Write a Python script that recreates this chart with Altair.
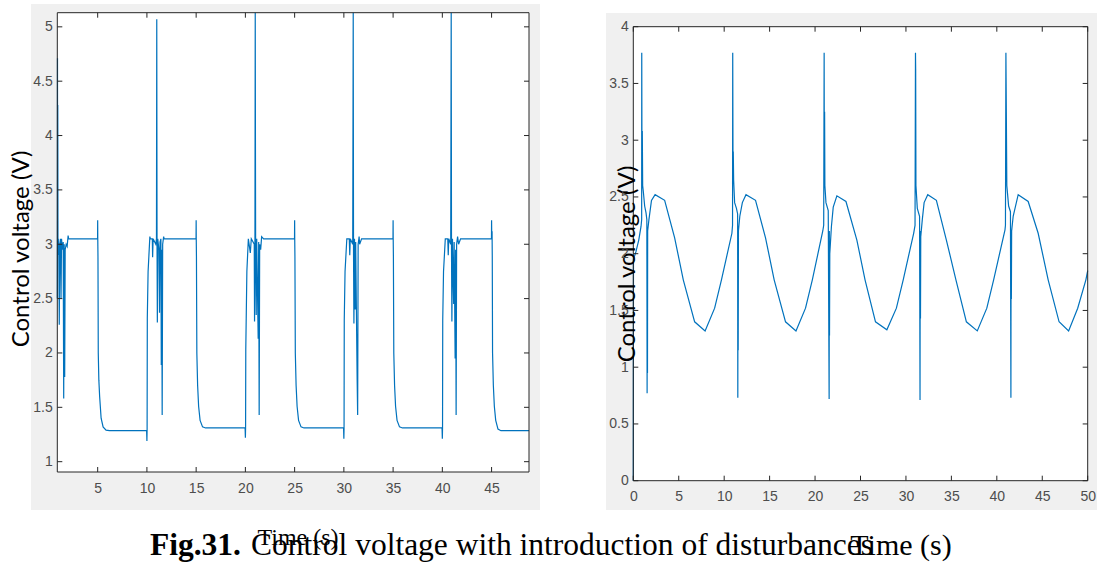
import altair as alt
import pandas as pd

# ---------------- data ----------------
left_t = [0.90, 0.91, 0.92, 0.93, 0.95, 0.97, 1.00, 1.05, 1.10, 1.15, 1.22, 1.28, 1.33, 1.42, 1.50, 1.55, 1.60, 1.65, 1.70, 1.80, 1.90, 2.00, 2.05, 4.99, 5.00, 5.01, 5.03, 5.06, 5.12, 5.20, 5.35, 5.55, 5.85, 6.20, 9.97,
          10.00, 10.02, 10.04, 10.12, 10.30, 10.35, 10.55, 10.58, 10.63, 10.90, 10.97, 11.00, 11.03, 11.06, 11.10, 11.22, 11.28, 11.33, 11.42, 11.46, 11.50, 11.55, 11.60, 11.70, 11.75, 14.99, 15.00, 15.01, 15.03, 15.07, 15.15, 15.25, 15.40, 15.65, 15.95, 19.97,
          20.00, 20.02, 20.04, 20.15, 20.30, 20.50, 20.60, 20.90, 20.93, 20.97, 21.00, 21.02, 21.04, 21.10, 21.15, 21.30, 21.35, 21.40, 21.45, 21.55, 21.65, 21.85, 24.99, 25.00, 25.01, 25.03, 25.07, 25.15, 25.25, 25.40, 25.65, 25.95, 29.97,
          30.00, 30.02, 30.04, 30.12, 30.30, 30.55, 30.60, 30.65, 30.90, 30.95, 30.98, 31.02, 31.08, 31.15, 31.20, 31.35, 31.40, 31.45, 31.55, 31.60, 31.80, 34.99, 35.00, 35.01, 35.03, 35.07, 35.15, 35.25, 35.40, 35.65, 35.95, 39.97,
          40.00, 40.02, 40.04, 40.12, 40.30, 40.55, 40.60, 40.65, 40.85, 40.90, 40.93, 40.97, 41.03, 41.15, 41.20, 41.30, 41.35, 41.40, 41.45, 41.55, 41.65, 41.85, 44.99, 45.00, 45.02, 45.05, 45.07, 45.10, 45.18, 45.28, 45.42, 45.65, 45.95, 48.80]
left_v = [2.50, 3.05, 4.71, 2.90, 4.28, 2.95, 3.05, 2.95, 2.26, 3.00, 3.05, 2.50, 3.05, 2.95, 3.02, 1.58, 3.00, 1.78, 2.95, 3.00, 2.98, 3.08, 3.05, 3.05, 3.22, 3.05, 2.89, 2.00, 1.75, 1.60, 1.40, 1.32, 1.29, 1.285, 1.285,
          1.19, 1.30, 2.32, 2.75, 3.07, 3.05, 3.05, 2.88, 3.05, 3.00, 3.05, 5.07, 2.95, 2.28, 3.05, 2.95, 2.37, 3.02, 3.05, 1.89, 2.95, 1.43, 3.00, 3.07, 3.05, 3.05, 3.22, 3.05, 2.89, 2.00, 1.70, 1.51, 1.38, 1.32, 1.31, 1.31,
          1.22, 1.31, 2.03, 2.75, 3.05, 2.92, 3.05, 3.00, 2.29, 3.05, 5.13, 3.96, 3.00, 2.35, 3.05, 2.13, 3.02, 1.43, 3.00, 2.95, 3.07, 3.05, 3.05, 3.22, 3.05, 2.89, 2.00, 1.70, 1.51, 1.38, 1.32, 1.31, 1.31,
          1.21, 1.31, 2.30, 2.75, 3.05, 3.05, 2.90, 3.05, 3.00, 5.13, 2.95, 2.27, 3.05, 2.40, 3.02, 1.75, 1.43, 3.00, 3.07, 3.00, 3.05, 3.05, 3.22, 3.05, 2.89, 2.00, 1.70, 1.51, 1.38, 1.32, 1.31, 1.31,
          1.21, 1.31, 2.30, 2.75, 3.05, 3.05, 2.90, 3.05, 3.00, 5.13, 2.95, 2.29, 3.05, 2.45, 3.02, 1.95, 2.95, 1.43, 3.00, 3.07, 3.00, 3.05, 3.05, 3.22, 3.05, 3.12, 2.89, 2.00, 1.70, 1.51, 1.38, 1.30, 1.285, 1.285]

right_t = [0.00, 0.02, 0.30, 0.60, 0.85, 0.92, 0.93, 0.96, 0.99, 1.03, 1.10, 1.25, 1.40, 1.49, 1.52, 1.54, 1.56, 1.58, 1.72, 2.00, 2.40, 3.45, 4.55, 5.50, 6.75, 7.90, 8.95, 9.70, 10.85,
           10.92, 10.94, 10.97, 11.00, 11.04, 11.15, 11.35, 11.48, 11.50, 11.52, 11.54, 11.57, 11.72, 12.00, 12.40, 13.45, 14.55, 15.50, 16.75, 17.90, 18.95, 19.70, 20.85,
           20.95, 21.00, 21.02, 21.05, 21.08, 21.20, 21.45, 21.55, 21.57, 21.59, 21.62, 21.80, 22.00, 22.40, 23.40, 24.60, 25.50, 26.65, 27.90, 28.95, 29.70, 30.85,
           31.00, 31.05, 31.07, 31.10, 31.25, 31.50, 31.55, 31.57, 31.60, 31.63, 31.80, 32.00, 32.40, 33.35, 34.45, 35.50, 36.65, 37.85, 38.90, 39.65, 40.90,
           40.95, 41.00, 41.02, 41.10, 41.30, 41.50, 41.55, 41.57, 41.60, 41.63, 41.80, 42.35, 43.45, 44.55, 45.65, 46.85, 47.90, 48.90, 49.80, 50.00]
right_v = [0.00, 1.95, 2.02, 2.12, 2.24, 2.30, 3.77, 2.60, 3.08, 2.60, 2.55, 2.42, 2.36, 2.30, 0.77, 2.15, 0.95, 2.20, 2.30, 2.47, 2.52, 2.47, 2.14, 1.77, 1.40, 1.32, 1.52, 1.77, 2.18,
           2.25, 3.77, 2.85, 2.90, 2.65, 2.45, 2.40, 2.35, 0.73, 2.20, 1.15, 2.20, 2.33, 2.45, 2.52, 2.47, 2.14, 1.77, 1.40, 1.32, 1.52, 1.77, 2.20,
           2.25, 3.77, 2.70, 3.25, 2.60, 2.45, 2.38, 0.72, 2.20, 1.28, 2.00, 2.24, 2.41, 2.51, 2.46, 2.12, 1.77, 1.40, 1.33, 1.52, 1.77, 2.18,
           2.25, 3.77, 3.63, 2.60, 2.40, 2.33, 0.71, 2.20, 1.43, 2.15, 2.30, 2.45, 2.52, 2.47, 2.12, 1.77, 1.40, 1.32, 1.52, 1.77, 2.21,
           2.25, 3.77, 3.55, 2.60, 2.42, 2.37, 0.73, 2.20, 1.60, 2.20, 2.33, 2.52, 2.46, 2.18, 1.77, 1.40, 1.32, 1.52, 1.77, 1.85]

left_xticks = [5, 10, 15, 20, 25, 30, 35, 40, 45]
left_yticks = [1, 1.5, 2, 2.5, 3, 3.5, 4, 4.5, 5]
right_xticks = [0, 5, 10, 15, 20, 25, 30, 35, 40, 45, 50]
right_yticks = [0, 0.5, 1, 1.5, 2, 2.5, 3, 3.5, 4]

y_title = "Control voltage (V)"
x_title = "Time (s)"
caption_bold = "Fig.31."
caption_rest = "Control voltage with introduction of disturbances"

# ---------------- styling ----------------
W, H = 1097, 562
LINE = "#0072BD"
FRAME = "#262626"
GRAYBG = "#f0f0f0"
LABEL = "#4d4d4d"

# panel geometry (pixels)
L = dict(x0=57.3, x1=529.0, y0=12.7, y1=472.0, bg=(31, 540, 4, 510))
R = dict(x0=633.3, x1=1087.7, y0=26.7, y1=480.7, bg=(606, 1097, 13, 510))

one = pd.DataFrame({"k": [0]})


def panel(t, v, xdom, ydom, xticks, yticks, g):
    xs = alt.Scale(domain=xdom, range=[g["x0"], g["x1"]], nice=False, zero=False)
    ys = alt.Scale(domain=ydom, range=[g["y1"], g["y0"]], nice=False, zero=False)
    ax = alt.Axis(orient="bottom", offset=-(H - g["y1"]), values=xticks, format="~g",
                  labelFlush=False, ticks=False, domain=False, grid=False, title=None,
                  labelFont="Liberation Sans", labelFontSize=14, labelColor=LABEL,
                  labelPadding=9, labelOverlap=False, zindex=1)
    ay = alt.Axis(orient="left", offset=-g["x0"], values=yticks, format="~g",
                  labelFlush=False, ticks=False, domain=False, grid=False, title=None,
                  labelFont="Liberation Sans", labelFontSize=14, labelColor=LABEL,
                  labelPadding=5, labelOverlap=False, zindex=1)
    bx0, bx1, by0, by1 = g["bg"]
    bg = alt.Chart(one).mark_rect(color=GRAYBG).encode(
        x=alt.value(bx0), x2=alt.value(bx1), y=alt.value(by0), y2=alt.value(by1))
    plot_bg = alt.Chart(one).mark_rect(color="white").encode(
        x=alt.value(g["x0"]), x2=alt.value(g["x1"]), y=alt.value(g["y0"]), y2=alt.value(g["y1"]))
    df = pd.DataFrame({"t": t, "v": v})
    line = alt.Chart(df).mark_line(color=LINE, strokeWidth=1.2).encode(
        x=alt.X("t:Q", scale=xs, axis=ax),
        y=alt.Y("v:Q", scale=ys, axis=ay),
    )
    xt = pd.DataFrame({"t": xticks})
    yt = pd.DataFrame({"v": yticks})
    tb = alt.Chart(xt).mark_rule(color=FRAME, strokeWidth=1).encode(
        x=alt.X("t:Q", scale=xs, axis=ax), y=alt.value(g["y1"]), y2=alt.value(g["y1"] - 5))
    tt = alt.Chart(xt).mark_rule(color=FRAME, strokeWidth=1).encode(
        x=alt.X("t:Q", scale=xs, axis=ax), y=alt.value(g["y0"]), y2=alt.value(g["y0"] + 5))
    tl = alt.Chart(yt).mark_rule(color=FRAME, strokeWidth=1).encode(
        y=alt.Y("v:Q", scale=ys, axis=ay), x=alt.value(g["x0"]), x2=alt.value(g["x0"] + 5))
    tr = alt.Chart(yt).mark_rule(color=FRAME, strokeWidth=1).encode(
        y=alt.Y("v:Q", scale=ys, axis=ay), x=alt.value(g["x1"]), x2=alt.value(g["x1"] - 5))
    frame = alt.Chart(one).mark_rect(fillOpacity=0, stroke=FRAME, strokeWidth=1).encode(
        x=alt.value(g["x0"]), x2=alt.value(g["x1"]), y=alt.value(g["y0"]), y2=alt.value(g["y1"]))
    return alt.layer(bg, plot_bg, line, tb, tt, tl, tr, frame)


left = panel(left_t, left_v, [0.9, 48.8], [0.905, 5.13], left_xticks, left_yticks, L)
right = panel(right_t, right_v, [0, 50], [0, 4], right_xticks, right_yticks, R)


def text(s, x, y, **kw):
    return alt.Chart(one).mark_text(text=s, **kw).encode(x=alt.value(x), y=alt.value(y))


ytl = text(y_title, 29, 249, angle=270, font="Lato", fontSize=24, align="center",
           baseline="alphabetic", color="black")
ytr = text(y_title, 635, 264, angle=270, font="Lato", fontSize=24, align="center",
           baseline="alphabetic", color="black")
xtl = text(x_title, 298, 545, font="Liberation Serif", fontSize=24, align="center",
           baseline="alphabetic", color="black")
cap1 = text(caption_bold, 150, 555, font="Liberation Serif", fontSize=31.5, fontWeight="bold",
            align="left", baseline="alphabetic", color="black")
cap2 = text(caption_rest, 251, 555, font="Liberation Serif", fontSize=31.5, align="left",
            baseline="alphabetic", color="black")
xtr = text(x_title, 901, 555, font="Liberation Serif", fontSize=30, align="center",
           baseline="alphabetic", color="black")

chart = alt.layer(left, right, ytl, ytr, xtl, cap1, cap2, xtr).resolve_scale(
    x="independent", y="independent"
).properties(
    width=W, height=H, autosize=alt.AutoSizeParams(type="none"), padding=0,
    background="white",
).configure_view(strokeWidth=0)

chart.save("out.html", embed_options={"renderer": "svg", "actions": False})
